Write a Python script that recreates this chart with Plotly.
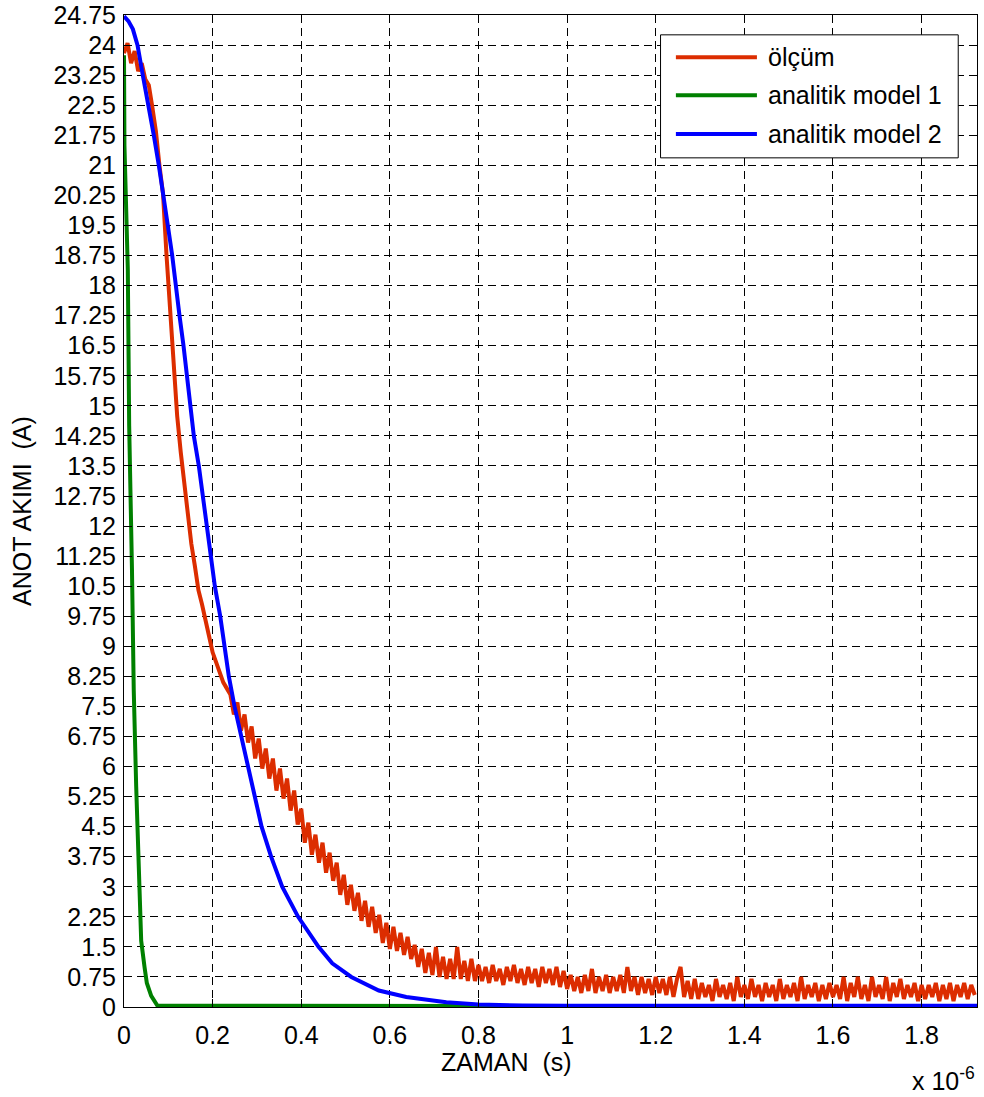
import numpy as np
import plotly.graph_objects as go

# ---- measured anode current (ölçüm), sampled every 8 ns ----
SAMPLE_STEP_US = 0.008
olcum_akim = [
    23.8, 24.05, 23.55, 23.85, 23.35, 23.55, 23.15, 23.0, 22.45, 21.85,
    21.0, 20.3, 18.75, 17.35, 15.9, 14.75, 13.85, 13.05, 12.4, 11.55,
    11.0, 10.4, 10.05, 9.6, 9.25, 8.85, 8.6, 8.35, 8.1, 7.95,
    7.8, 7.3, 7.6, 6.9, 7.3, 6.6, 7.0, 6.2, 6.7, 5.95,
    6.45, 5.7, 6.2, 5.4, 5.95, 5.2, 5.7, 4.9, 5.4, 4.55,
    4.95, 4.1, 4.6, 3.8, 4.3, 3.6, 4.1, 3.35, 3.85, 3.15,
    3.6, 2.8, 3.3, 2.55, 3.05, 2.4, 2.85, 2.15, 2.65, 2.0,
    2.5, 1.85, 2.3, 1.6, 2.1, 1.45, 2.0, 1.4, 1.85, 1.3,
    1.75, 1.2, 1.55, 1.0, 1.45, 0.85, 1.35, 0.8, 1.5, 0.75,
    1.25, 0.7, 1.2, 0.7, 1.5, 0.7, 1.15, 0.65, 1.2, 0.65,
    1.05, 0.65, 1.0, 0.6, 1.05, 0.65, 0.95, 0.55, 1.0, 0.65,
    1.05, 0.6, 0.95, 0.55, 1.0, 0.6, 0.95, 0.5, 1.0, 0.6,
    0.95, 0.55, 1.0, 0.5, 0.9, 0.45, 0.8, 0.4, 0.75, 0.35,
    0.8, 0.4, 0.95, 0.35, 0.75, 0.4, 0.8, 0.35, 0.75, 0.4,
    0.8, 0.35, 1.0, 0.4, 0.75, 0.3, 0.75, 0.35, 0.7, 0.3,
    0.75, 0.35, 0.7, 0.3, 0.75, 0.25, 0.7, 1.0, 0.25, 0.65,
    0.2, 0.7, 0.2, 0.6, 0.25, 0.55, 0.15, 0.7, 0.25, 0.55,
    0.2, 0.6, 0.15, 0.75, 0.25, 0.55, 0.2, 0.7, 0.25, 0.55,
    0.15, 0.6, 0.25, 0.55, 0.15, 0.7, 0.2, 0.55, 0.25, 0.6,
    0.15, 0.75, 0.2, 0.55, 0.25, 0.6, 0.15, 0.55, 0.2, 0.6,
    0.25, 0.55, 0.2, 0.75, 0.15, 0.6, 0.25, 0.75, 0.2, 0.55,
    0.15, 0.75, 0.25, 0.55, 0.2, 0.75, 0.15, 0.6, 0.25, 0.7,
    0.2, 0.55, 0.25, 0.6, 0.15, 0.55, 0.2, 0.55, 0.25, 0.6,
    0.15, 0.55, 0.2, 0.6, 0.15, 0.55, 0.25, 0.6, 0.2, 0.55,
    0.3,
]
olcum_zaman = np.arange(len(olcum_akim)) * SAMPLE_STEP_US

# ---- analytic model 1 ----
model1_zaman = [0.0, 0.001, 0.0086, 0.0117, 0.018, 0.022, 0.0275, 0.0327,
                0.0388, 0.0463, 0.0515, 0.0614, 0.0756, 1.925]
model1_akim = [23.75, 21.5, 18.4, 14.5, 10.9, 7.9, 5.5, 3.3,
               1.65, 1.0, 0.6, 0.28, 0.03, 0.02]

# ---- analytic model 2 ----
model2_zaman = [0.0, 0.01, 0.02, 0.0305, 0.0424, 0.056, 0.0673, 0.0786,
                0.0898, 0.0989, 0.1088, 0.1163, 0.1253, 0.1343, 0.1422,
                0.1494, 0.1576, 0.1689, 0.1779, 0.1869, 0.1953, 0.205,
                0.2172, 0.2269, 0.2366, 0.2494, 0.2646, 0.2788, 0.2946,
                0.3105, 0.332, 0.357, 0.393, 0.439, 0.47, 0.513,
                0.575, 0.637, 0.7273, 0.80, 0.90, 1.00, 1.925]
model2_akim = [24.72, 24.6, 24.4, 24.0, 23.25, 22.5, 21.75, 21.0,
               20.25, 19.5, 18.75, 18.0, 17.25, 16.5, 15.75,
               15.0, 14.25, 13.5, 12.75, 12.0, 11.25, 10.5,
               9.75, 9.0, 8.25, 7.5, 6.75, 6.0, 5.25,
               4.5, 3.75, 3.0, 2.25, 1.5, 1.09, 0.75,
               0.41, 0.25, 0.12, 0.06, 0.04, 0.03, 0.03]

# ---- axes ----
x_tick_vals = [0, 0.2, 0.4, 0.6, 0.8, 1.0, 1.2, 1.4, 1.6, 1.8]
x_tick_text = ["0", "0.2", "0.4", "0.6", "0.8", "1", "1.2", "1.4", "1.6", "1.8"]
y_tick_vals = [i * 0.75 for i in range(34)]
y_tick_text = ["0", "0.75", "1.5", "2.25", "3", "3.75", "4.5", "5.25", "6",
               "6.75", "7.5", "8.25", "9", "9.75", "10.5", "11.25", "12",
               "12.75", "13.5", "14.25", "15", "15.75", "16.5", "17.25",
               "18", "18.75", "19.5", "20.25", "21", "21.75", "22.5",
               "23.25", "24", "24.75"]
X_MAX = 1.925
Y_MAX = 24.752

series_names = ["ölçüm", "analitik model 1", "analitik model 2"]
series_colors = ["rgb(220,45,0)", "rgb(0,128,0)", "rgb(0,0,255)"]

FONT = "Liberation Sans, Arial, sans-serif"
FS = 25

fig = go.Figure()
fig.add_trace(go.Scatter(x=olcum_zaman, y=olcum_akim, mode="lines",
                         name=series_names[0],
                         line=dict(color=series_colors[0], width=4)))
fig.add_trace(go.Scatter(x=model1_zaman, y=model1_akim, mode="lines",
                         name=series_names[1],
                         line=dict(color=series_colors[1], width=4)))
fig.add_trace(go.Scatter(x=model2_zaman, y=model2_akim, mode="lines",
                         name=series_names[2],
                         line=dict(color=series_colors[2], width=4)))

axis_common = dict(
    showgrid=True, gridcolor="black", gridwidth=1, griddash="8px,5px",
    showline=True, linecolor="black", linewidth=1, mirror="ticks",
    ticks="inside", ticklen=8, tickcolor="black", tickwidth=1,
    zeroline=False, tickfont=dict(family=FONT, size=FS, color="black"),
    ticklabeloverflow="allow", automargin=False,
)
fig.update_xaxes(range=[0, X_MAX], tickvals=x_tick_vals, ticktext=x_tick_text,
                 ticklabelstandoff=6, **axis_common)
fig.update_yaxes(range=[0, Y_MAX], tickvals=y_tick_vals, ticktext=y_tick_text,
                 ticklabelstandoff=2, **axis_common)

# legend box drawn in paper coordinates
lg_x0, lg_x1, lg_y0, lg_y1 = 0.629, 0.978, 0.856, 0.980
row_y = [0.9575, 0.9190, 0.8800]
line_x0, line_x1, text_x = 0.647, 0.742, 0.7526
shapes = [dict(type="rect", xref="paper", yref="paper", x0=lg_x0, x1=lg_x1,
               y0=lg_y0, y1=lg_y1, line=dict(color="black", width=1),
               fillcolor="white", layer="above")]
annotations = []
for name, col, yy in zip(series_names, series_colors, row_y):
    shapes.append(dict(type="line", xref="paper", yref="paper", x0=line_x0,
                       x1=line_x1, y0=yy, y1=yy,
                       line=dict(color=col, width=4), layer="above"))
    annotations.append(dict(xref="paper", yref="paper", x=text_x, y=yy,
                            text=name, showarrow=False, xanchor="left",
                            yanchor="middle",
                            font=dict(family=FONT, size=FS, color="black")))

annotations += [
    dict(xref="paper", yref="paper", x=0.449, y=-0.0555, text="ZAMAN  (s)",
         showarrow=False, xanchor="center", yanchor="middle",
         font=dict(family=FONT, size=FS, color="black")),
    dict(xref="paper", yref="paper", x=-0.1196, y=0.5, text="ANOT AKIMI  (A)",
         textangle=-90, showarrow=False, xanchor="center", yanchor="middle",
         font=dict(family=FONT, size=FS, color="black")),
    dict(xref="paper", yref="paper", x=1.0, y=-0.0725,
         text="x 10<sup>-6</sup>", showarrow=False, xanchor="right",
         yanchor="middle", font=dict(family=FONT, size=FS, color="black")),
]

fig.update_layout(
    width=984, height=1097,
    margin=dict(l=124, r=7, t=15, b=90, autoexpand=False),
    plot_bgcolor="white", paper_bgcolor="white",
    showlegend=False, shapes=shapes, annotations=annotations,
    font=dict(family=FONT, size=FS, color="black"),
)

fig.write_html("out.html")
